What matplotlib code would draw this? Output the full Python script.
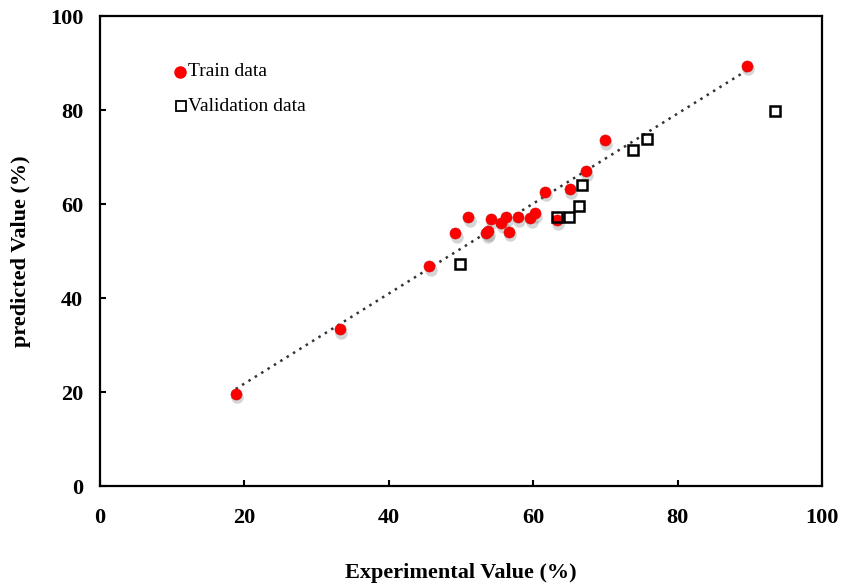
import matplotlib
matplotlib.use("Agg")
import matplotlib.pyplot as plt
import matplotlib.transforms as mtransforms
import numpy as np

# experimental vs predicted values (%)
train_x = [18.8, 33.2, 45.6, 49.2, 51.0, 53.5, 53.7, 54.1, 55.6, 56.2, 56.6,
           57.9, 59.6, 60.2, 61.6, 63.3, 65.1, 67.3, 69.9, 89.6]
train_y = [19.6, 33.4, 46.8, 53.8, 57.2, 53.8, 54.2, 56.8, 55.9, 57.2, 54.1,
           57.2, 57.0, 58.0, 62.6, 56.5, 63.1, 67.0, 73.6, 89.4]

valid_x = [49.9, 63.3, 64.9, 66.3, 66.7, 73.8, 75.7, 93.5]
valid_y = [47.2, 57.2, 57.2, 59.6, 64.0, 71.4, 73.8, 79.8]

x_ticks = [0, 20, 40, 60, 80, 100]
y_ticks = [0, 20, 40, 60, 80, 100]

plt.rcParams["font.family"] = ["Liberation Serif", "DejaVu Serif"]

fig = plt.figure(figsize=(8.41, 5.85), dpi=100)
ax = fig.add_axes([0.1189, 0.1692, 0.8585, 0.8034])

# trend line through the training points
slope, intercept = np.polyfit(train_x, train_y, 1)
line_x = np.array([min(train_x), max(train_x)])
ax.plot(line_x, slope * line_x + intercept, linestyle=(0, (1, 2)),
        color="#333333", linewidth=1.8, zorder=2)

shadow = mtransforms.offset_copy(ax.transData, fig=fig, x=1.0, y=-2.5,
                                 units="points")
ax.plot(train_x, train_y, "o", color="#777777", alpha=0.3,
        markersize=9, markeredgewidth=0, transform=shadow, zorder=2.5)
ax.plot(train_x, train_y, "o", color="#ff0000", markersize=8,
        markeredgecolor="#cc1010", markeredgewidth=0.4, zorder=3)
ax.plot(valid_x, valid_y, "s", markerfacecolor="none",
        markeredgecolor="black", markersize=7.5, markeredgewidth=1.8,
        zorder=4)

# hand-placed legend
ax.plot([0.111], [0.881], "o", color="#ff0000", markersize=8,
        transform=ax.transAxes, clip_on=False)
ax.text(0.122, 0.881, "Train data", transform=ax.transAxes, fontsize=14,
        va="center", ha="left")
ax.plot([0.112], [0.808], "s", markerfacecolor="none", markeredgecolor="black",
        markersize=7, markeredgewidth=1.3, transform=ax.transAxes,
        clip_on=False)
ax.text(0.122, 0.808, "Validation data", transform=ax.transAxes, fontsize=14,
        va="center", ha="left")

ax.set_xlim(0, 100)
ax.set_ylim(0, 100)
ax.set_xticks(x_ticks)
ax.set_yticks(y_ticks)
ax.tick_params(direction="in", length=4, width=1.5, labelsize=16)
ax.tick_params(axis="x", pad=16)
ax.tick_params(axis="y", pad=12)
for lbl in ax.get_xticklabels() + ax.get_yticklabels():
    lbl.set_fontweight("bold")
for spine in ax.spines.values():
    spine.set_linewidth(1.6)

ax.set_xlabel("Experimental Value (%)", fontsize=16, fontweight="bold",
              labelpad=25)
ax.set_ylabel("predicted Value (%)", fontsize=16, fontweight="bold",
              labelpad=14)

fig.savefig("out.png", dpi=100)
